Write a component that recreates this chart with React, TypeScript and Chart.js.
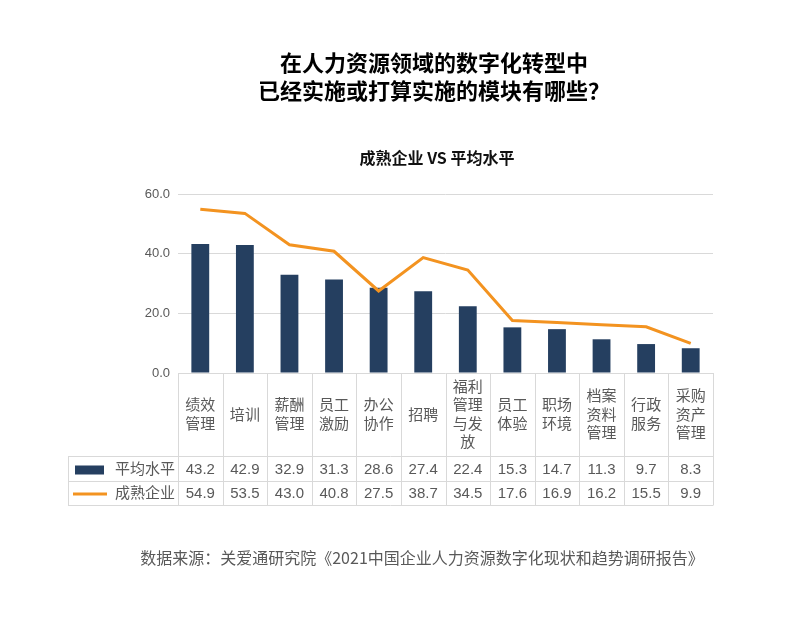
import React, { useEffect, useRef } from "react";
import { Chart, registerables } from "chart.js";

Chart.register(...registerables);

const titleLines = ["在人力资源领域的数字化转型中", "已经实施或打算实施的模块有哪些？"];
const subtitle = "成熟企业 VS 平均水平";
const sourceText = "数据来源：关爱通研究院《2021中国企业人力资源数字化现状和趋势调研报告》";

const categories = [
  "绩效管理", "培训", "薪酬管理", "员工激励", "办公协作", "招聘",
  "福利管理与发放", "员工体验", "职场环境", "档案资料管理", "行政服务", "采购资产管理",
];
const avgName = "平均水平";
const matureName = "成熟企业";
const avgValues = [43.2, 42.9, 32.9, 31.3, 28.6, 27.4, 22.4, 15.3, 14.7, 11.3, 9.7, 8.3];
const matureValues = [54.9, 53.5, 43.0, 40.8, 27.5, 38.7, 34.5, 17.6, 16.9, 16.2, 15.5, 9.9];

const BAR_COLOR = "#253F60";
const LINE_COLOR = "#F39320";
const TEXT_GREY = "#595959";
const BORDER = "#d9d9d9";
const FONT = "'Liberation Sans', 'Noto Sans CJK SC', sans-serif";
const CJK_FONT = "'Noto Sans CJK SC', 'Liberation Sans', sans-serif";

function wrap2(s: string): string[] {
  const out: string[] = [];
  for (let i = 0; i < s.length; i += 2) out.push(s.slice(i, i + 2));
  return out;
}

const tablePlugin = {
  id: "tablePlugin",
  afterDraw(chart: any) {
    const ctx = chart.ctx as CanvasRenderingContext2D;
    const area = chart.chartArea;
    const x = chart.scales.x;
    const n = categories.length;
    const w = (area.right - area.left) / n;
    const top = area.bottom;
    const row1 = 456;
    const row2 = 481;
    const bottom = 505;
    const tableLeft = 68;

    ctx.save();
    // titles
    ctx.fillStyle = "#000";
    ctx.textAlign = "center";
    ctx.textBaseline = "middle";
    ctx.font = `bold 22px ${CJK_FONT}`;
    ctx.fillText(titleLines[0], 434, 63);
    ctx.fillText(titleLines[1], 434, 91);
    ctx.font = `bold 16px ${CJK_FONT}`;
    ctx.fillStyle = "#111";
    ctx.fillText(subtitle, 437, 158);

    // source
    ctx.font = `16px ${CJK_FONT}`;
    ctx.fillStyle = TEXT_GREY;
    ctx.fillText(sourceText, 422, 558);

    // borders
    ctx.strokeStyle = BORDER;
    ctx.lineWidth = 1;
    ctx.beginPath();
    const hl = (y: number, x0: number, x1: number) => {
      ctx.moveTo(x0, Math.round(y) + 0.5);
      ctx.lineTo(x1, Math.round(y) + 0.5);
    };
    const vl = (xx: number, y0: number, y1: number) => {
      ctx.moveTo(Math.round(xx) + 0.5, y0);
      ctx.lineTo(Math.round(xx) + 0.5, y1);
    };
    hl(row1, tableLeft, area.right);
    hl(row2, tableLeft, area.right);
    hl(bottom, tableLeft, area.right);
    vl(tableLeft, row1, bottom + 0.5);
    for (let k = 0; k <= n; k++) {
      vl(area.left + k * w, top, bottom + 0.5);
    }
    ctx.stroke();

    // category labels
    ctx.fillStyle = TEXT_GREY;
    ctx.font = `15px ${FONT}`;
    const lh = 18.5;
    const midY = (top + row1) / 2 + 1;
    categories.forEach((c, i) => {
      const cx = x.getPixelForValue(i);
      const lines = wrap2(c);
      const start = midY - ((lines.length - 1) * lh) / 2;
      lines.forEach((ln, j) => ctx.fillText(ln, cx, start + j * lh));
    });

    // values
    const r1y = (row1 + row2) / 2 + 1;
    const r2y = (row2 + bottom) / 2 + 1;
    avgValues.forEach((v, i) => {
      ctx.fillText(v.toFixed(1), x.getPixelForValue(i), r1y);
    });
    matureValues.forEach((v, i) => {
      ctx.fillText(v.toFixed(1), x.getPixelForValue(i), r2y);
    });

    // legend cells
    ctx.fillStyle = BAR_COLOR;
    ctx.fillRect(75, r1y - 4, 29, 9);
    ctx.strokeStyle = LINE_COLOR;
    ctx.lineWidth = 3;
    ctx.beginPath();
    ctx.moveTo(73, r2y);
    ctx.lineTo(107, r2y);
    ctx.stroke();
    ctx.fillStyle = TEXT_GREY;
    ctx.textAlign = "right";
    ctx.font = `15px ${FONT}`;
    ctx.fillText(avgName, 175, r1y);
    ctx.fillText(matureName, 175, r2y);
    ctx.restore();
  },
};

export default function App() {
  const ref = useRef<HTMLCanvasElement | null>(null);
  useEffect(() => {
    if (!ref.current) return;
    const chart = new Chart(ref.current, {
      type: "bar",
      data: {
        labels: categories,
        datasets: [
          {
            type: "line",
            label: matureName,
            data: matureValues,
            borderColor: LINE_COLOR,
            backgroundColor: LINE_COLOR,
            borderWidth: 3,
            pointRadius: 0,
            tension: 0,
            order: 0,
          } as any,
          {
            type: "bar",
            label: avgName,
            data: avgValues,
            backgroundColor: BAR_COLOR,
            barPercentage: 0.8,
            categoryPercentage: 0.5,
            order: 1,
          },
        ],
      },
      options: {
        responsive: false,
        animation: false,
        layout: { padding: { left: 0, right: 87, top: 194, bottom: 245 } },
        plugins: {
          legend: { display: false },
          title: { display: false },
          tooltip: { enabled: false },
        },
        scales: {
          x: { display: false },
          y: {
            min: 0,
            max: 60,
            ticks: {
              stepSize: 20,
              padding: 8,
              color: TEXT_GREY,
              font: { size: 13, family: FONT },
              callback: (v: any) => Number(v).toFixed(1),
            },
            grid: { color: BORDER, drawTicks: false },
            border: { display: false },
            afterFit: (scale: any) => {
              scale.width = 178;
            },
          },
        },
      },
      plugins: [tablePlugin],
    });
    return () => chart.destroy();
  }, []);
  return (
    <div style={{ position: "fixed", left: 0, top: 0, width: 800, height: 618, background: "#fff" }}>
      <canvas ref={ref} width={800} height={618} />
    </div>
  );
}
